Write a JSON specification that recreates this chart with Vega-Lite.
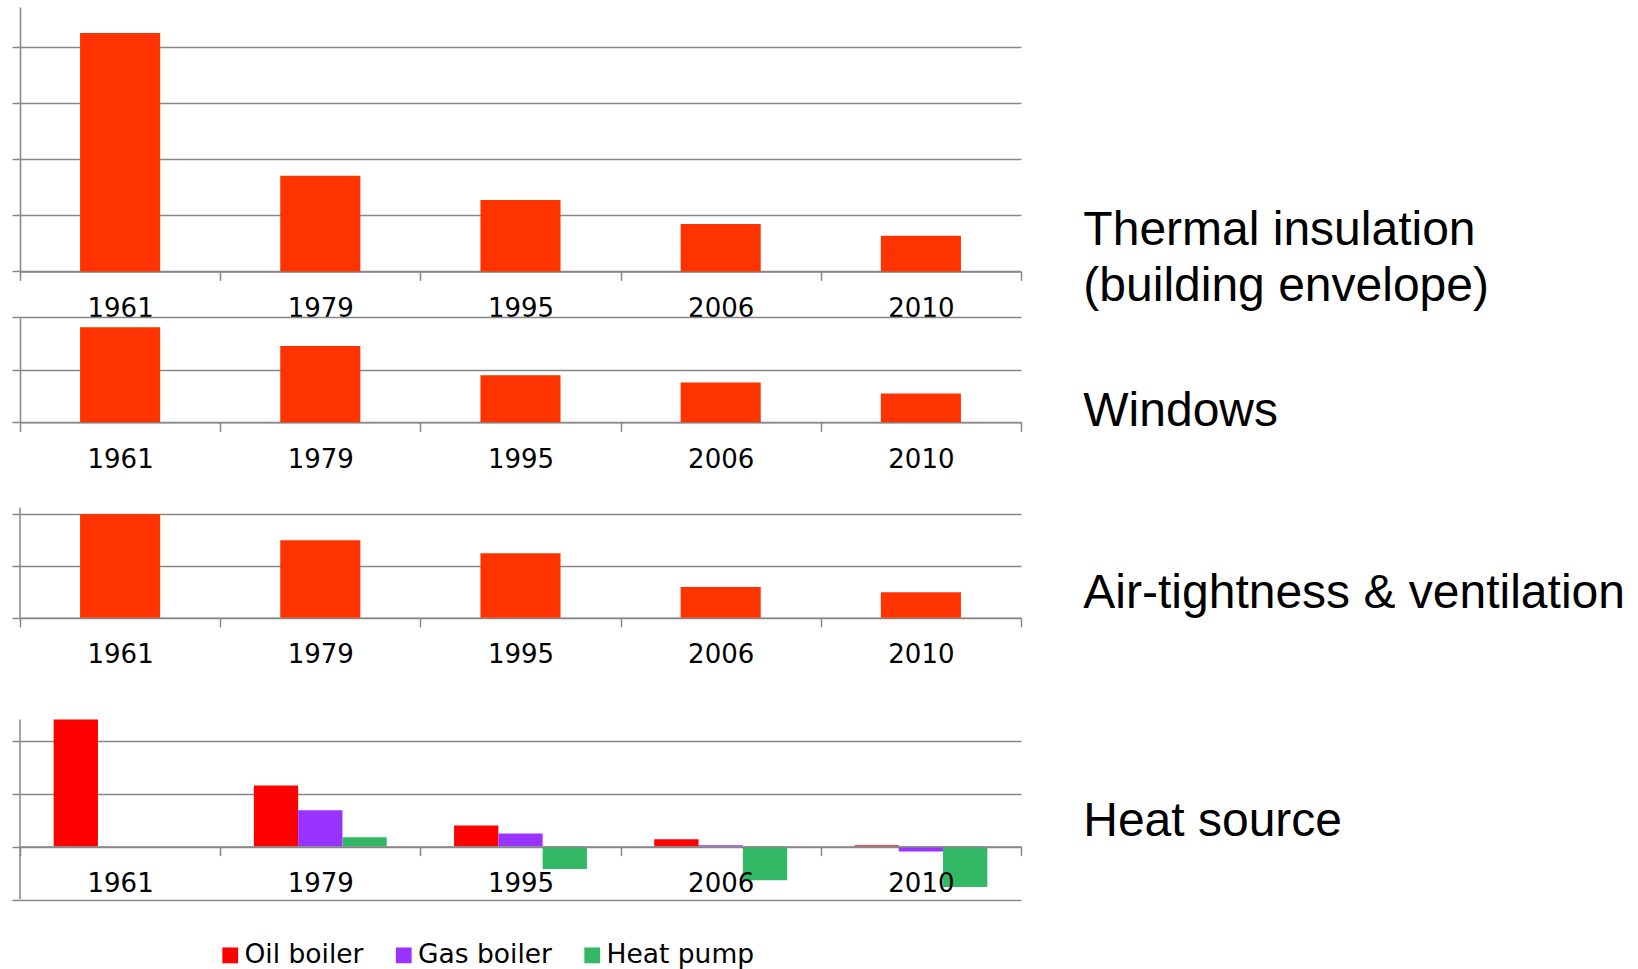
{
  "$schema": "https://vega.github.io/schema/vega-lite/v6.json",
  "background": "white",
  "padding": {"left": 11, "top": 7, "right": 5, "bottom": 5},
  "bounds": "flush",
  "spacing": 45,
  "config": {
    "view": {"stroke": null},
    "axis": {
      "domainColor": "#878787", "tickColor": "#878787", "gridColor": "#878787",
      "domainWidth": 1.5, "tickWidth": 1.5, "gridWidth": 1.5
    },
    "axisX": {
      "labelFont": "DejaVu Sans", "labelFontSize": 26, "labelColor": "#000000",
      "labelAngle": 0, "tickBand": "extent", "tickSize": 9, "labelPadding": 15, "grid": false
    },
    "axisY": {"labels": false, "tickSize": 8, "grid": true},
    "title": {
      "font": "Liberation Sans", "fontSize": 48, "fontWeight": "normal", "color": "#000000",
      "orient": "right", "angle": 0, "align": "left", "anchor": "start", "frame": "group",
      "baseline": "top", "lineHeight": 56, "offset": 64
    },
    "legend": {
      "labelFont": "DejaVu Sans", "labelFontSize": 26.5, "labelColor": "#000000"
    }
  },
  "datasets": {
    "thermal": [
      {"year": "1961", "value": 4.257},
      {"year": "1979", "value": 1.709},
      {"year": "1995", "value": 1.275},
      {"year": "2006", "value": 0.846},
      {"year": "2010", "value": 0.638}
    ],
    "windows": [
      {"year": "1961", "value": 1.804},
      {"year": "1979", "value": 1.449},
      {"year": "1995", "value": 0.893},
      {"year": "2006", "value": 0.754},
      {"year": "2010", "value": 0.545}
    ],
    "air": [
      {"year": "1961", "value": 2.0},
      {"year": "1979", "value": 1.497},
      {"year": "1995", "value": 1.246},
      {"year": "2006", "value": 0.594},
      {"year": "2010", "value": 0.491}
    ],
    "heat": [
      {"year": "1961", "type": "Oil boiler", "value": 2.40},
      {"year": "1961", "type": "Gas boiler", "value": 0},
      {"year": "1961", "type": "Heat pump", "value": 0},
      {"year": "1979", "type": "Oil boiler", "value": 1.151},
      {"year": "1979", "type": "Gas boiler", "value": 0.685},
      {"year": "1979", "type": "Heat pump", "value": 0.175},
      {"year": "1995", "type": "Oil boiler", "value": 0.396},
      {"year": "1995", "type": "Gas boiler", "value": 0.245},
      {"year": "1995", "type": "Heat pump", "value": -0.423},
      {"year": "2006", "type": "Oil boiler", "value": 0.138},
      {"year": "2006", "type": "Gas boiler", "value": 0.025},
      {"year": "2006", "type": "Heat pump", "value": -0.636},
      {"year": "2010", "type": "Oil boiler", "value": 0.025},
      {"year": "2010", "type": "Gas boiler", "value": -0.094},
      {"year": "2010", "type": "Heat pump", "value": -0.762}
    ]
  },
  "vconcat": [
    {
      "width": 1001,
      "height": 264.4,
      "title": {"text": ["Thermal insulation", "(building envelope)"], "dy": 199.8, "dx": -408},
      "data": {"name": "thermal"},
      "mark": {"type": "bar", "color": "#FF3300", "width": {"band": 0.4}},
      "encoding": {
        "x": {"field": "year", "type": "nominal", "title": null, "scale": {"paddingInner": 0, "paddingOuter": 0}},
        "y": {"field": "value", "type": "quantitative", "title": null,
              "scale": {"domain": [0, 4.721], "nice": false},
              "axis": {"values": [0, 1, 2, 3, 4]}}
      }
    },
    {
      "width": 1001,
      "height": 105.3,
      "title": {"text": "Windows", "dy": 71.4, "dx": -197.2},
      "data": {"name": "windows"},
      "mark": {"type": "bar", "color": "#FF3300", "width": {"band": 0.4}},
      "encoding": {
        "x": {"field": "year", "type": "nominal", "title": null, "scale": {"paddingInner": 0, "paddingOuter": 0}},
        "y": {"field": "value", "type": "quantitative", "title": null,
              "scale": {"domain": [0, 2], "nice": false},
              "axis": {"values": [0, 1, 2]}}
      }
    },
    {
      "width": 1001,
      "height": 149.7,
      "title": {"text": "Air-tightness & ventilation", "dy": 102.4, "dx": -544},
      "data": {"name": "air"},
      "encoding": {
        "x": {"field": "year", "type": "nominal", "title": null, "scale": {"paddingInner": 0, "paddingOuter": 0}}
      },
      "layer": [
        {
          "mark": {"type": "bar", "color": "#FF3300", "width": {"band": 0.4}},
          "encoding": {
            "y": {"field": "value", "type": "quantitative", "title": null,
                  "scale": {"domain": [0, 2.896], "nice": false},
                  "axis": {"values": [0, 1, 2], "domain": false}}
          }
        },
        {
          "transform": [{"filter": "datum.year == '1961'"}],
          "mark": {"type": "rule", "color": "#878787", "strokeWidth": 1.5},
          "encoding": {
            "x": {"field": "year", "type": "nominal", "bandPosition": 0},
            "y": {"datum": 0},
            "y2": {"datum": 2.128}
          }
        }
      ]
    },
    {
      "width": 1001,
      "height": 236.6,
      "title": {"text": "Heat source", "dy": 135.4, "dx": -261.3},
      "data": {"name": "heat"},
      "encoding": {
        "x": {"field": "year", "type": "nominal", "title": null,
              "scale": {"paddingInner": 0, "paddingOuter": 0},
              "axis": {"offset": -53, "zindex": 1}}
      },
      "layer": [
        {
          "mark": {"type": "bar"},
          "encoding": {
            "xOffset": {"field": "type", "type": "nominal",
                        "sort": ["Oil boiler", "Gas boiler", "Heat pump"],
                        "scale": {"paddingInner": 0, "paddingOuter": 0.76}},
            "y": {"field": "value", "type": "quantitative", "title": null,
                  "scale": {"domain": [-1, 3.464], "nice": false, "zero": false},
                  "axis": {"values": [-1, 0, 1, 2], "domain": false}},
            "color": {"field": "type", "type": "nominal",
                      "scale": {"domain": ["Oil boiler", "Gas boiler", "Heat pump"],
                                "range": ["#FF0000", "#9933FF", "#33B866"]},
                      "legend": {"orient": "none", "legendX": 197, "legendY": 935,
                                 "direction": "horizontal", "title": null,
                                 "symbolType": "square", "symbolSize": 250,
                                 "symbolStrokeWidth": 0, "symbolOpacity": 1,
                                 "labelOffset": 1, "columnPadding": 26.5, "padding": 0,
                                 "labelLimit": 400}}
          }
        },
        {
          "transform": [{"filter": "datum.year == '1961' && datum.type == 'Oil boiler'"}],
          "mark": {"type": "rule", "color": "#878787", "strokeWidth": 1.5},
          "encoding": {
            "x": {"field": "year", "type": "nominal", "bandPosition": 0},
            "y": {"datum": -1},
            "y2": {"datum": 2.396}
          }
        }
      ]
    }
  ]
}
